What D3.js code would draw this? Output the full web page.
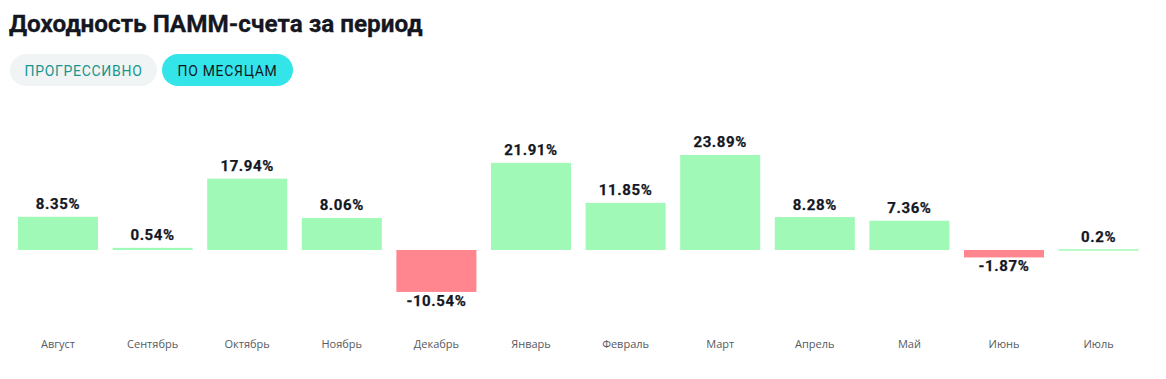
<!DOCTYPE html>
<html><head><meta charset="utf-8">
<script src="https://cdn.jsdelivr.net/npm/d3@7"></script>
<style>
body{margin:0;background:#fff;}
svg{display:block;}
</style></head>
<body>
<svg id="chart" width="1166" height="379"></svg>
<script>
const months = ["Август","Сентябрь","Октябрь","Ноябрь","Декабрь","Январь","Февраль","Март","Апрель","Май","Июнь","Июль"];
const values = [8.35, 0.54, 17.94, 8.06, -10.54, 21.91, 11.85, 23.89, 8.28, 7.36, -1.87, 0.2];
const valueLabels = ["8.35%","0.54%","17.94%","8.06%","-10.54%","21.91%","11.85%","23.89%","8.28%","7.36%","-1.87%","0.2%"];
const title = "Доходность ПАММ-счета за период";
const buttons = ["ПРОГРЕССИВНО","ПО МЕСЯЦАМ"];

const svg = d3.select("#chart");
const font = "Roboto, 'Noto Sans', sans-serif";

svg.append("text").attr("x",9).attr("y",31.5)
  .attr("font-family",font).attr("font-weight",700).attr("font-size",24.3)
  .attr("fill","#14171f").attr("stroke","#14171f").attr("stroke-width",0.3).text(title);

// buttons
const btn = [{x:10,w:147,bg:"#f1f4f4",fg:"#15968f"},{x:162,w:131,bg:"#33e5e8",fg:"#14171f"}];
btn.forEach((b,i)=>{
  svg.append("rect").attr("x",b.x).attr("y",54).attr("width",b.w).attr("height",32).attr("rx",16).attr("fill",b.bg);
  svg.append("text").attr("x",b.x+b.w/2).attr("y",76).attr("text-anchor","middle")
    .attr("font-family",font).attr("font-size",14).attr("letter-spacing",0.7)
    .attr("fill",b.fg).text(buttons[i]);
});

const x = d3.scaleBand().domain(months).range([10.7,1145.9]).paddingInner(0.154).paddingOuter(0.077);
const y = d3.scaleLinear().domain([-15,25]).range([250+15*3.977, 250-25*3.977]);

const g = svg.append("g");
g.selectAll("rect.bar").data(values).join("rect").attr("class","bar")
  .attr("x",(d,i)=>x(months[i])).attr("width",x.bandwidth())
  .attr("y",d=>Math.min(y(d),y(0))).attr("height",d=>Math.max(1.5,Math.abs(y(d)-y(0))))
  .attr("fill",d=>d>=0?"#a1f9b7":"#ff868e");

g.selectAll("text.val").data(values).join("text").attr("class","val")
  .attr("x",(d,i)=>x(months[i])+x.bandwidth()/2)
  .attr("y",d=>d>=0?y(d)-7.5:y(d)+14)
  .attr("text-anchor","middle").attr("font-family",font).attr("font-weight",700).attr("font-size",15)
  .attr("letter-spacing",0.6).attr("stroke","#14171f").attr("stroke-width",0.25)
  .attr("fill","#14171f").text((d,i)=>valueLabels[i]);

const axis = d3.axisBottom(x).tickSize(0).tickPadding(0);
const ax = svg.append("g").attr("transform","translate(0,348)").call(axis);
ax.select(".domain").remove();
ax.selectAll("text").attr("font-family","'Open Sans', sans-serif").attr("font-size",11).attr("fill","#555a5e").attr("dy",0);
</script>
</body></html>
